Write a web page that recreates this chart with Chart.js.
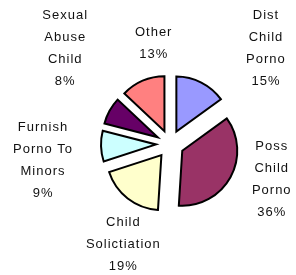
<!DOCTYPE html>
<html>
<head>
<meta charset="utf-8">
<script src="https://cdn.jsdelivr.net/npm/chart.js@4.4.0/dist/chart.umd.min.js"></script>
<style>
    html, body { margin: 0; padding: 0; background: #fff; }
    #wrap { width: 296px; height: 275px; position: relative; }
</style>
</head>
<body>
<div id="wrap"><canvas id="pieChart"></canvas></div>
<script>
// Chart data
const categories = [
    ['Dist', 'Child', 'Porno'],
    ['Poss', 'Child', 'Porno'],
    ['Child', 'Solictiation'],
    ['Furnish', 'Porno To', 'Minors'],
    ['Sexual', 'Abuse', 'Child'],
    ['Other']
];
const percentValues = [15, 36, 19, 9, 8, 13];
const sliceColors = ['#9999FF', '#993366', '#FFFFCC', '#CCFFFF', '#660066', '#FF8080'];

// Pull every slice out from the centre (exploded pie)
const explodePlugin = {
    id: 'explode',
    beforeDatasetsDraw(chart, args, opts) {
        const area = chart.chartArea;
        const cx = (area.left + area.right) / 2;
        const cy = (area.top + area.bottom) / 2;
        chart.getDatasetMeta(0).data.forEach(arc => {
            const mid = (arc.startAngle + arc.endAngle) / 2;
            arc.x = cx + Math.cos(mid) * opts.distance;
            arc.y = cy + Math.sin(mid) * opts.distance;
        });
    }
};

// Multi-line labels outside the slices
const outsideLabelsPlugin = {
    id: 'outsideLabels',
    afterDatasetsDraw(chart, args, opts) {
        const ctx = chart.ctx;
        const meta = chart.getDatasetMeta(0);
        ctx.save();
        ctx.font = opts.font;
        ctx.fillStyle = opts.color;
        ctx.textAlign = 'center';
        ctx.textBaseline = 'middle';
        if ('letterSpacing' in ctx) ctx.letterSpacing = opts.letterSpacing;
        meta.data.forEach((arc, i) => {
            const mid = (arc.startAngle + arc.endAngle) / 2;
            const dist = arc.outerRadius + opts.gap;
            const nudge = opts.nudges[i] || [0, 0];
            const x = arc.x + Math.cos(mid) * dist + nudge[0];
            const y = arc.y + Math.sin(mid) * dist + nudge[1];
            const lines = categories[i].concat([percentValues[i] + '%']);
            const top = y - (lines.length - 1) * opts.lineHeight / 2;
            lines.forEach((line, j) => {
                ctx.fillText(line, x, top + j * opts.lineHeight);
            });
        });
        ctx.restore();
    }
};

function createPieChart() {
    const ctx = document.getElementById('pieChart').getContext('2d');

    new Chart(ctx, {
        type: 'pie',
        data: {
            labels: categories.map(c => c.join(' ')),
            datasets: [{
                data: percentValues,
                backgroundColor: sliceColors,
                borderColor: '#000',
                borderWidth: 2,
                borderJoinStyle: 'miter'
            }]
        },
        options: {
            responsive: true,
            maintainAspectRatio: false,
            animation: false,
            layout: {
                padding: { left: 114, right: 70, top: 88, bottom: 75 }
            },
            plugins: {
                legend: { display: false },
                tooltip: { enabled: false },
                explode: { distance: 14 },
                outsideLabels: {
                    font: '13px "Liberation Sans", Arial, sans-serif',
                    color: '#111',
                    letterSpacing: '1px',
                    lineHeight: 22,
                    gap: 30,
                    nudges: [[51, -7], [15, -12], [14, 22], [-28, 13], [-18, -48], [23, -10]]
                }
            }
        },
        plugins: [explodePlugin, outsideLabelsPlugin]
    });
}

document.addEventListener('DOMContentLoaded', createPieChart);
</script>
</body>
</html>
